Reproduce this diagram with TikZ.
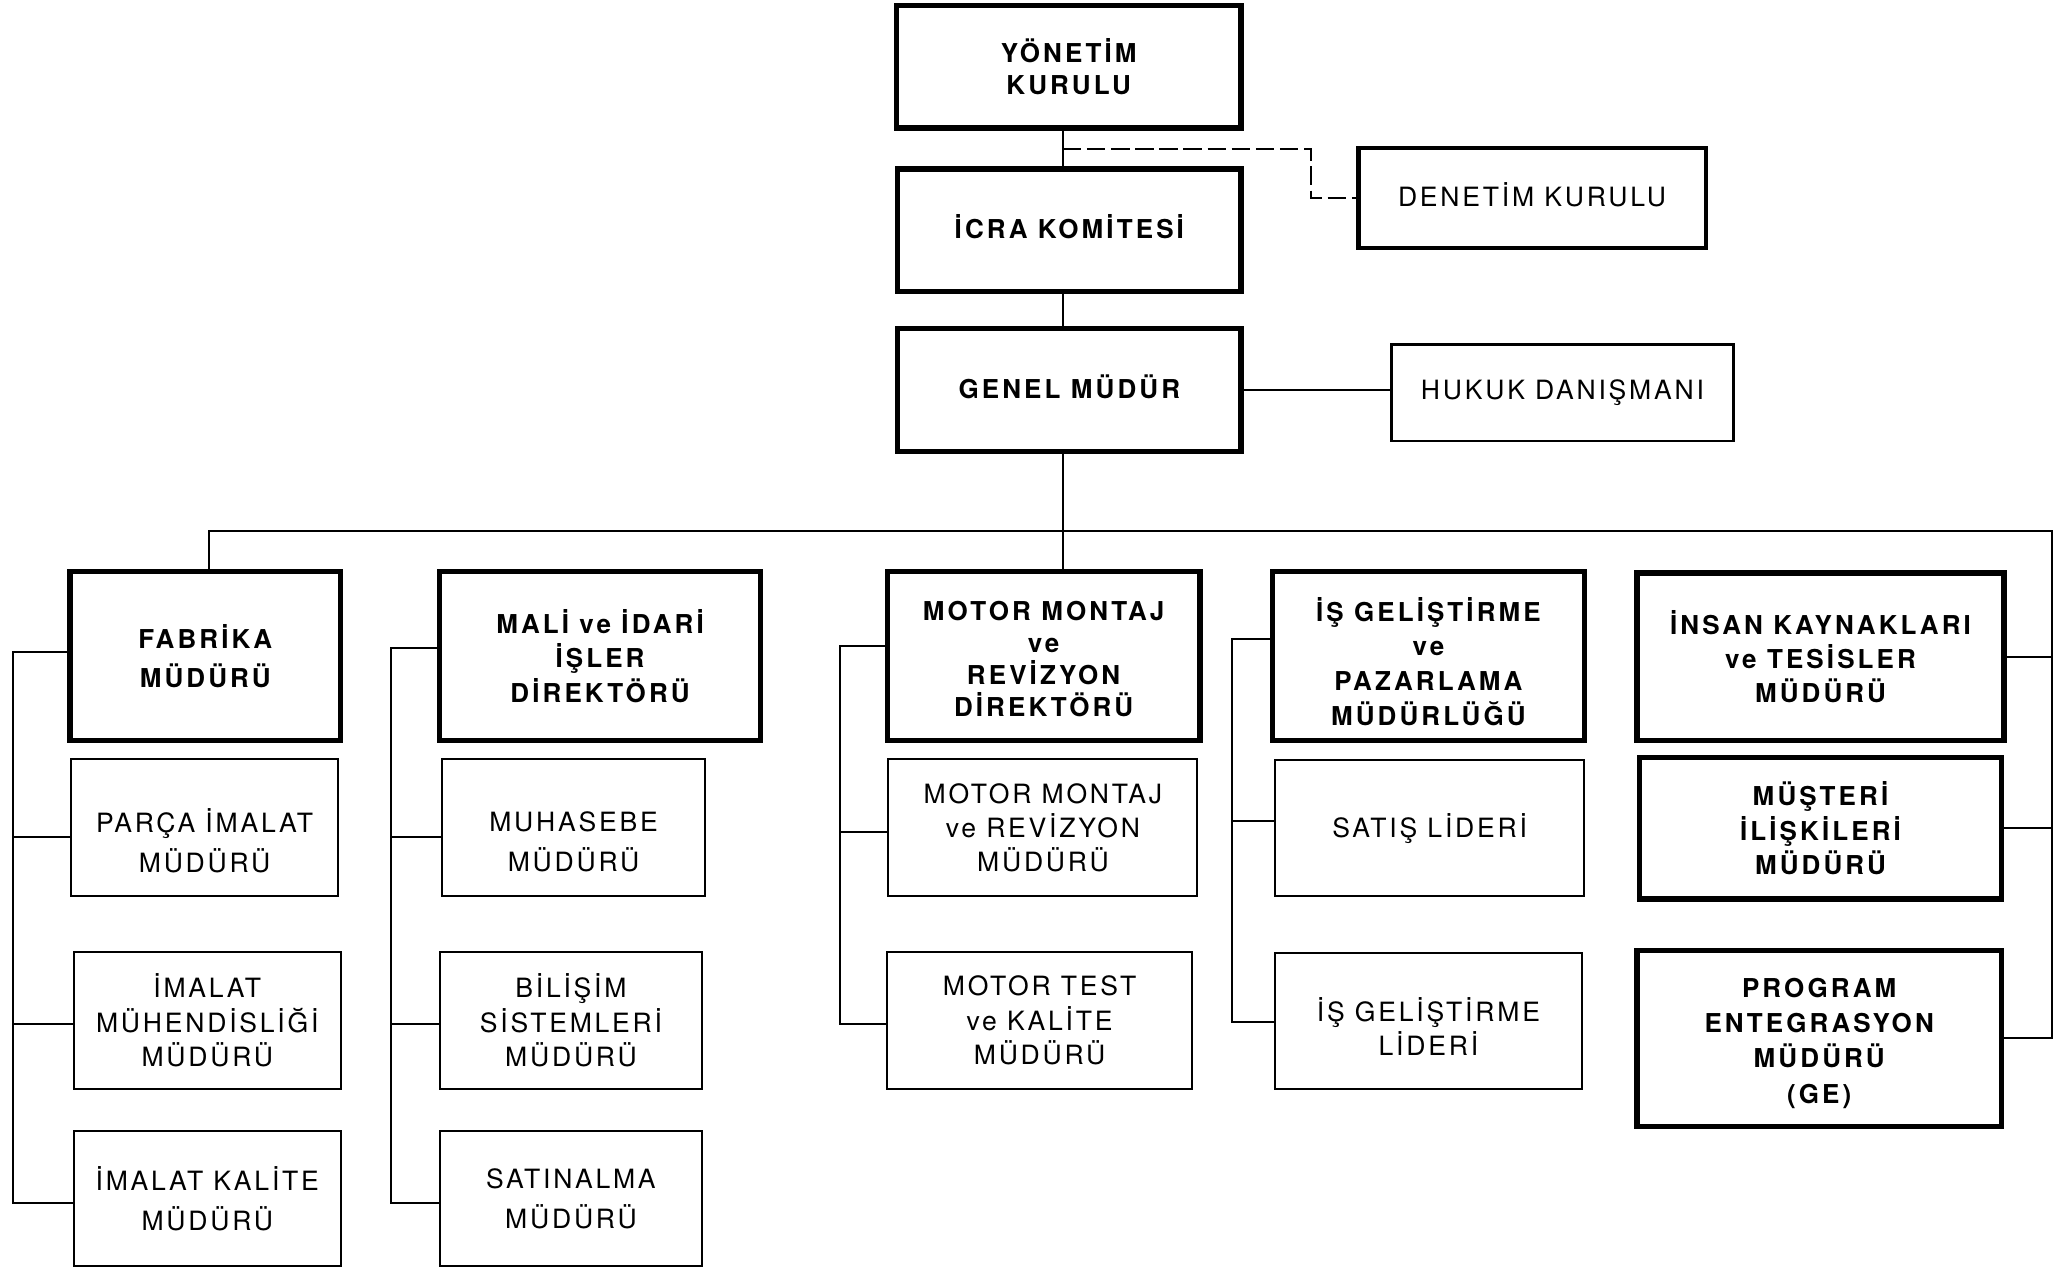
\documentclass[tikz,border=0pt]{standalone}
\usepackage{fontspec}
\setmainfont{TeX Gyre Heros}
\newfontfamily\rfam[LetterSpace=10.5]{TeX Gyre Heros}
\newfontfamily\bfam[LetterSpace=12]{TeX Gyre Heros}
\begin{document}
\begin{tikzpicture}[x=0.025cm, y=-0.025cm,
  sz/.style 2 args={minimum width=#1*0.025cm, minimum height=#2*0.025cm},
  bbox/.style={draw, line width=2.8pt, inner sep=0pt, align=center, font=\bfam\bfseries\fontsize{14}{#1}\selectfont},
  bbox/.default=18.5pt,
  rbox/.style={draw, line width=1.1pt, inner sep=0pt, align=center, font=\rfam\fontsize{14.3}{#1}\selectfont},
  rbox/.default=18.5pt,
  conn/.style={line width=1.1pt},
  dconn/.style={line width=1.1pt, dash pattern=on 10pt off 3pt},
  tdown/.style={execute at begin node={\rule{0pt}{#1}}},
  tup/.style={execute at begin node={\rule[-#1]{0pt}{#1}}}]
\path[fill=white, use as bounding box] (0,0) rectangle (1568,960);

% top
\node[bbox=17pt, sz={261}{93}] (ym) at (809.5,50.5) {YÖNETİM\\KURULU};
\node[bbox, tup=4.2pt, sz={260}{93}] (icra) at (810,174.5) {İCRA KOMİTESİ};
\node[bbox, tup=4.2pt, sz={260}{93}] (genel) at (810,295.5) {GENEL MÜDÜR};
\node[rbox, tup=4.2pt, line width=2.3pt, sz={263}{76}] (den) at (1160.5,150) {DENETİM KURULU};
\node[rbox, line width=1.5pt, sz={259}{73}] (huk) at (1183.5,297.5) {HUKUK DANIŞMANI};

% column 1
\node[bbox=21.3pt, sz={205}{128}] (fab) at (155.5,497) {FABRİKA\\MÜDÜRÜ};
\node[rbox=21.3pt, tdown=48.4pt, sz={202}{104}] (parca) at (155,627) {PARÇA İMALAT\\MÜDÜRÜ};
\node[rbox, sz={202}{104}] (imm) at (157,773) {İMALAT\\MÜHENDİSLİĞİ\\MÜDÜRÜ};
\node[rbox=21.3pt, sz={202}{102}] (imk) at (157,908) {İMALAT KALİTE\\MÜDÜRÜ};

% column 2
\node[bbox, sz={243}{128}] (mali) at (454.5,497) {MALİ ve İDARİ\\İŞLER\\DİREKTÖRÜ};
\node[rbox=21.3pt, tdown=47.2pt, sz={199}{104}] (muh) at (434.5,627) {MUHASEBE\\MÜDÜRÜ};
\node[rbox, sz={199}{104}] (bil) at (432.5,773) {BİLİŞİM\\SİSTEMLERİ\\MÜDÜRÜ};
\node[rbox=21.3pt, sz={199}{102}] (sat) at (432.5,908) {SATINALMA\\MÜDÜRÜ};

% column 3
\node[bbox=17.3pt, tdown=65.6pt, sz={237}{128}] (motor) at (790.5,497) {MOTOR MONTAJ\\ve\\REVİZYON\\DİREKTÖRÜ};
\node[rbox, sz={234}{104}] (mmr) at (790,627) {MOTOR MONTAJ\\ve REVİZYON\\MÜDÜRÜ};
\node[rbox, sz={231}{104}] (mtk) at (787.5,773) {MOTOR TEST\\ve KALİTE\\MÜDÜRÜ};

% column 4
\node[bbox=18.7pt, tdown=74.6pt, sz={236}{128}] (isg) at (1082,497) {İŞ GELİŞTİRME\\ve\\PAZARLAMA\\MÜDÜRLÜĞÜ};
\node[rbox, sz={234}{103}] (satis) at (1083,627.5) {SATIŞ LİDERİ};
\node[rbox, tdown=37pt, sz={232}{103}] (isl) at (1082,773.5) {İŞ GELİŞTİRME\\LİDERİ};

% column 5
\node[bbox, sz={278}{127}] (ik) at (1379,497.5) {İNSAN KAYNAKLARI\\ve TESİSLER\\MÜDÜRÜ};
\node[bbox, sz={274}{107}] (mus) at (1379,627.5) {MÜŞTERİ\\İLİŞKİLERİ\\MÜDÜRÜ};
\node[bbox=19pt, tdown=72.6pt, sz={276}{133}] (prog) at (1378,786.5) {PROGRAM\\ENTEGRASYON\\MÜDÜRÜ\\(GE)};

% spine
\coordinate (sp) at (805,0);
\draw[conn] (ym.south -| sp) -- (icra.north -| sp);
\draw[conn] (icra.south -| sp) -- (genel.north -| sp);
\draw[conn] (genel.south -| sp) -- (motor.north -| sp);
\coordinate (dj) at (805,113);
\coordinate (dk) at (993,113);
\draw[dconn] (dj) -- (dk) |- (den.west);
\draw[conn] (genel.east) -- (genel.east -| huk.west);

% bus
\coordinate (bl) at (158,402);
\coordinate (br) at (1554,402);
\draw[conn] (fab.north -| bl) -- (bl) -- (br) -- (br |- prog.east) -- (prog.east);
\draw[conn] (ik.east) -- (ik.east -| br);
\draw[conn] (mus.east) -- (mus.east -| br);

% column 1 bracket
\coordinate (a1) at (10,494);
\coordinate (a2) at (10,634);
\coordinate (a3) at (10,776);
\coordinate (a4) at (10,911);
\draw[conn] (a1 -| fab.west) -- (a1) -- (a4) -- (a4 -| imk.west);
\draw[conn] (a2) -- (a2 -| parca.west);
\draw[conn] (a3) -- (a3 -| imm.west);

% column 2 bracket
\coordinate (b1) at (296,491);
\coordinate (b2) at (296,634);
\coordinate (b3) at (296,776);
\coordinate (b4) at (296,911);
\draw[conn] (b1 -| mali.west) -- (b1) -- (b4) -- (b4 -| sat.west);
\draw[conn] (b2) -- (b2 -| muh.west);
\draw[conn] (b3) -- (b3 -| bil.west);

% column 3 bracket
\coordinate (m1) at (636,489);
\coordinate (m2) at (636,630);
\coordinate (m3) at (636,776);
\draw[conn] (m1 -| motor.west) -- (m1) -- (m3) -- (m3 -| mtk.west);
\draw[conn] (m2) -- (m2 -| mmr.west);

% column 4 bracket
\coordinate (i1) at (933,484);
\coordinate (i2) at (933,622);
\coordinate (i3) at (933,774);
\draw[conn] (i1 -| isg.west) -- (i1) -- (i3) -- (i3 -| isl.west);
\draw[conn] (i2) -- (i2 -| satis.west);
\end{tikzpicture}
\end{document}
